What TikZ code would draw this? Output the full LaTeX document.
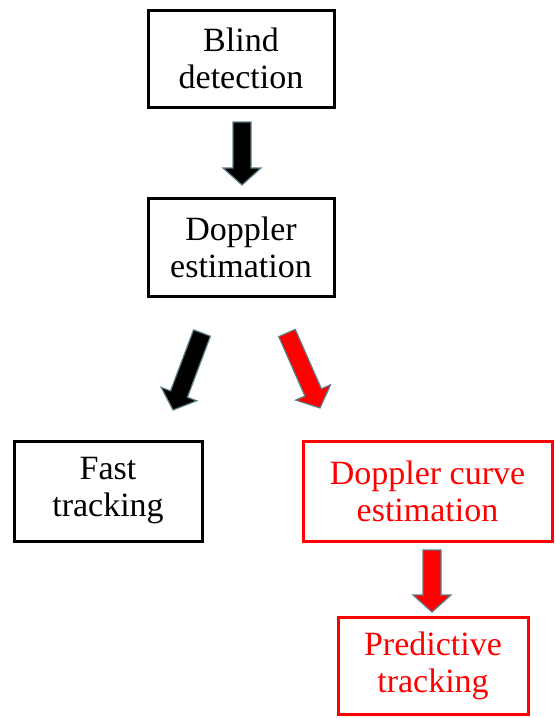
\documentclass[tikz,border=0pt]{standalone}
\usepackage{fontspec}
\newfontfamily\tnr{Liberation Serif}
\usetikzlibrary{calc}
\definecolor{arrowedge}{RGB}{95,125,135}
\tikzset{
  box/.style={draw=black, line width=3pt, align=center, inner sep=0pt,
    font=\tnr\fontsize{34}{37}\selectfont, text=black},
  redbox/.style={box, draw=red, text=red},
}
\newcommand\blockarr[3]{%
  \coordinate (hb) at ($(#2)!17pt!(#1)$);
  \filldraw[fill=#3, draw=arrowedge, line width=1.2pt, line join=miter]
    ($(#1)!9pt!90:(#2)$) -- ($(hb)!9pt!90:(#2)$) -- ($(hb)!19pt!90:(#2)$)
    -- (#2) -- ($(hb)!19pt!-90:(#2)$) -- ($(hb)!9pt!-90:(#2)$)
    -- ($(#1)!9pt!-90:(#2)$) -- cycle;
}
\begin{document}
\begin{tikzpicture}[x=1pt,y=1pt]
\useasboundingbox (0,0) rectangle (555,-718);
\node[box, minimum width=186, minimum height=97] (blind) at (241,-58.5) {Blind\\detection};
\node[box, minimum width=186, minimum height=98] (dopp) at (241,-247) {Doppler\\estimation};
\node[box, minimum width=188, minimum height=100] (fast) at (108,-491) {Fast\\tracking};
\node[redbox, minimum width=249, minimum height=100] (curve) at (427.5,-491) {Doppler curve\\estimation};
\node[redbox, minimum width=190, minimum height=97] (pred) at (433,-666) {Predictive\\tracking};
\coordinate (a1s) at (242,-122);
\coordinate (a1e) at (242,-185);
\coordinate (a2s) at (202,-333);
\coordinate (a2e) at (173,-410);
\coordinate (a3s) at (287,-333);
\coordinate (a3e) at (320,-408);
\coordinate (a4s) at (432,-550);
\coordinate (a4e) at (432,-612);
\blockarr{a1s}{a1e}{black}
\blockarr{a2s}{a2e}{black}
\blockarr{a3s}{a3e}{red}
\blockarr{a4s}{a4e}{red}
\end{tikzpicture}
\end{document}
